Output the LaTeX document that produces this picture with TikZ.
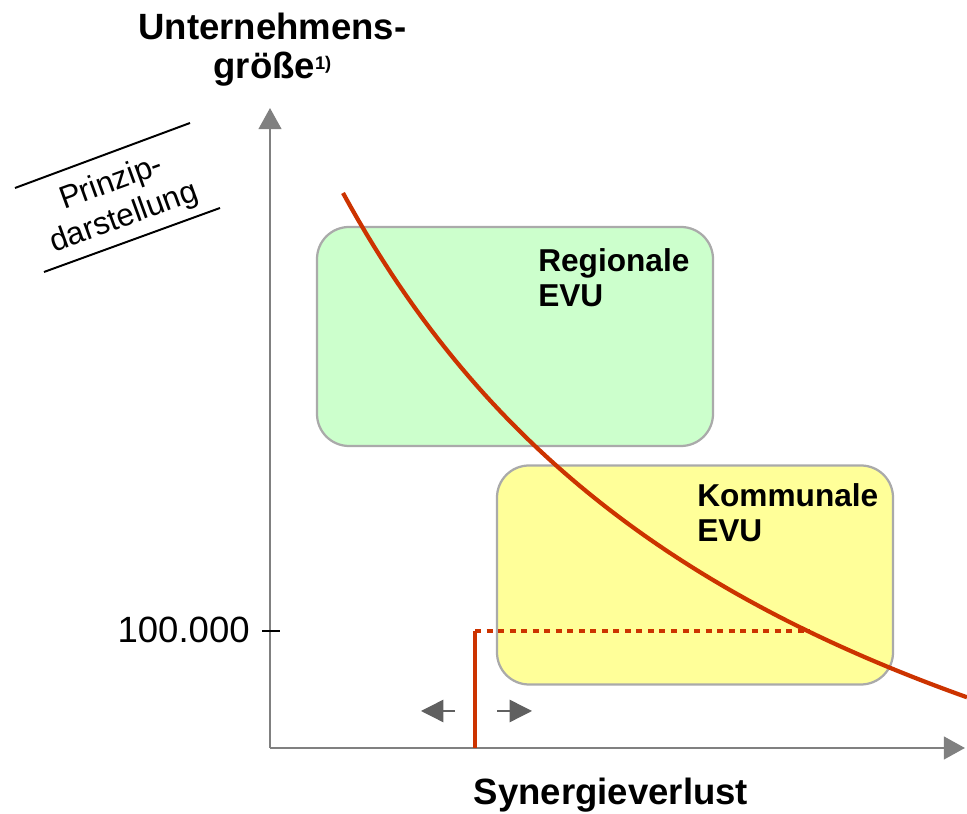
\documentclass[tikz,border=0pt]{standalone}
\usepackage{fontspec}
\setmainfont{Liberation Sans}
\usetikzlibrary{arrows.meta,positioning}
\definecolor{evurot}{RGB}{204,51,0}
\definecolor{achsgrau}{RGB}{128,128,128}
\definecolor{pfeilgrau}{RGB}{96,96,96}
\definecolor{randgrau}{RGB}{170,170,170}
\definecolor{regiogruen}{RGB}{204,255,204}
\definecolor{kommgelb}{RGB}{255,255,153}

\begin{document}
\begin{tikzpicture}[
  achse/.style={line width=2pt, achsgrau, -{Triangle[width=16pt,length=15pt]}},
  feld/.style={draw=randgrau, line width=1.6pt, rounded corners=0.8cm, minimum width=9.9cm, minimum height=5.475cm, inner sep=0pt},
  feldtext/.style={anchor=north west, inner sep=0pt, align=left, font=\fontsize{22.5}{25}\selectfont\bfseries},
  kurve/.style={evurot, line width=3.5pt},
  pfeil/.style={pfeilgrau, line width=1pt, -{Triangle[width=16pt,length=16pt]}}]
\useasboundingbox (0,0) rectangle (24.175,20.35);

%Felder
\node[feld, fill=regiogruen] (regional) at (12.875,11.9375) {};
\node[feld, fill=kommgelb] (kommunal) at (17.375,5.975) {};
\node[feldtext] (regtext) at (13.45,14.15) {Regionale\\EVU};
\node[feldtext] (komtext) at (17.425,8.275) {Kommunale\\EVU};

%Achsen
\coordinate (O) at (6.75,1.65);
\coordinate (ytop) at (6.75,17.65);
\coordinate (xend) at (24.125,1.65);
\draw[achse] (O) -- (ytop);
\draw[achse] (O) -- (xend);
\node[anchor=north, align=center, inner sep=0pt, font=\fontsize{26}{27.5}\selectfont\bfseries] (groesse) at (6.81,20.025) {Unternehmens-\\größe\raisebox{6pt}{\fontsize{13}{13}\selectfont 1)}};
\node[anchor=base, inner sep=0pt, font=\fontsize{26}{28}\selectfont\bfseries] (synergie) at (15.275,0.2375) {Synergieverlust};

%Markierung 100.000
\node[anchor=east, inner sep=0pt, font=\fontsize{26}{28}\selectfont] (hundert) at (6.25,4.6) {100.000};
\coordinate (tick) at (7.0,4.575);
\draw[line width=1pt] (6.55,4.575) -- (tick);

%Schwelle
\coordinate (fuss) at (11.875,1.65);
\coordinate (knick) at (11.875,4.575);
\coordinate (schnitt) at (20.25,4.575);
\draw[kurve] (fuss) -- (knick);
\draw[kurve, dash pattern=on 4.3pt off 3.9pt] (knick) -- (schnitt);
\draw[pfeil] (11.375,2.575) -- (10.525,2.575);
\draw[pfeil] (12.425,2.575) -- (13.3,2.575);

%Kurve
\draw[kurve, line width=3pt] plot[domain=8.575:24.175, samples=80] (\x, {-7.0425+278.14/(\x+3.75)});

%Stempel
\node[rotate=20, align=center, inner sep=0pt, font=\fontsize{22.5}{26.5}\selectfont] (prinzip) at (2.95,15.33) {Prinzip-\\darstellung};
\draw[line width=1.4pt] (0.375,15.65) -- (4.75,17.275);
\draw[line width=1.4pt] (1.1,13.55) -- (5.5,15.15);

\end{tikzpicture}
\end{document}
